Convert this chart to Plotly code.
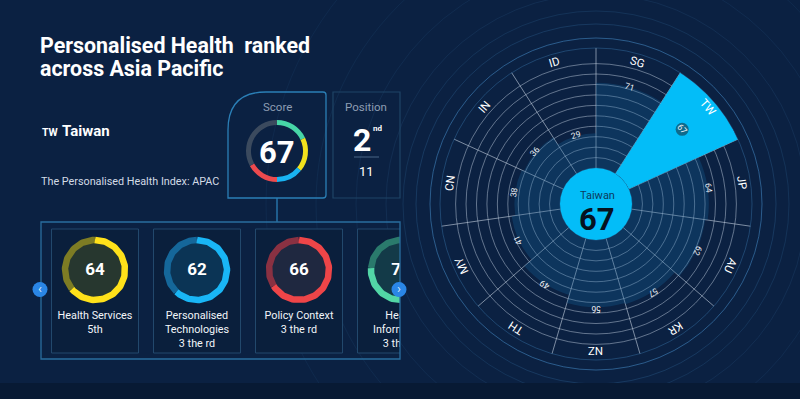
import numpy as np
import plotly.graph_objects as go

# ---------------- data ----------------
countries = ["SG", "TW", "JP", "AU", "KR", "NZ", "TH", "MY", "CN", "IN", "ID"]
country_scores = [71, 67, 64, 62, 57, 56, 49, 41, 38, 36, 29]
highlight = "TW"
selected_name = "Taiwan"
selected_score = 67
position_rank = "2"
position_suffix = "nd"
n_ranked = "11"

score_segments = [18, 18, 14, 17]          # teal, yellow, blue, red parts of the score ring
score_segment_colors = ["#47d6a7", "#f2e21d", "#19b3f1", "#ec4a4e"]

pillar_names = ["Health Services", "Personalised<br>Technologies", "Policy Context", "Health<br>Information"]
pillar_scores = [64, 62, 66, 76]
pillar_ranks = ["5th", "3 the rd", "3 the rd", "3 the rd"]
pillar_colors = ["#ffe11a", "#19b6f6", "#ee4548", "#52d6a6"]
pillar_dim = ["#7d7c24", "#15679a", "#8a3142", "#2a7a6c"]
pillar_fill = ["#27372f", "#0b3455", "#1f2840", "#133a48"]

# ---------------- geometry helpers ----------------
W, H = 800, 399
CX, CY = 596, 204          # centre of the radial chart (px)
R_OUT, R_HOLE = 156, 36
RMAX = 100.0
PXU = (R_OUT - R_HOLE) / RMAX
FONT = "Roboto"
BG = "#0b2142"

fig = go.Figure()

# full-figure pixel axes for annotations / shapes
fig.add_trace(go.Scatter(x=[None], y=[None], xaxis="x", yaxis="y", showlegend=False, hoverinfo="skip"))

# ---------------- radial chart ----------------
n = len(countries)
sector = 360.0 / n
theta_c = [sector * (i + 0.5) for i in range(n)]
bar_r = [RMAX if c == highlight else v for c, v in zip(countries, country_scores)]
bar_col = ["#03bdf8" if c == highlight else "rgba(20,100,155,0.30)" for c in countries]

fig.add_trace(go.Barpolar(
    r=bar_r, theta=theta_c, width=[sector] * n,
    marker=dict(color=bar_col, line=dict(width=0)),
    subplot="polar", showlegend=False, hoverinfo="skip"))

hi = countries.index(highlight)
fig.add_trace(go.Scatterpolar(
    r=[country_scores[hi] - 2], theta=[theta_c[hi]], mode="markers",
    marker=dict(size=13, color="#0f6a8c"), subplot="polar",
    showlegend=False, hoverinfo="skip"))

ring_vals = [8.7 * k for k in range(1, 11)]
fig.update_layout(polar=dict(
    domain=dict(x=[(CX - R_OUT) / W, (CX + R_OUT) / W],
                y=[1 - (CY + R_OUT) / H, 1 - (CY - R_OUT) / H]),
    hole=R_HOLE / R_OUT,
    bgcolor="rgba(0,0,0,0)",
    radialaxis=dict(range=[0, RMAX], tickvals=ring_vals, showticklabels=False, ticks="",
                    showline=False, gridcolor="rgba(185,200,218,0.5)", gridwidth=1),
    angularaxis=dict(rotation=90, direction="clockwise", thetaunit="degrees",
                     tickvals=[sector * i for i in range(n)], showticklabels=False, ticks="",
                     gridcolor="rgba(200,212,226,0.6)", gridwidth=1,
                     showline=True, linecolor="rgba(60,125,180,0.4)", linewidth=1),
))

def pol(r_units, t):
    rp = R_HOLE + r_units * PXU
    a = np.radians(t)
    return CX + rp * np.sin(a), CY - rp * np.cos(a)

def tangle(t):
    return t - 360 if t > 180 else t

annotations = []
for c, v, t in zip(countries, country_scores, theta_c):
    x, y = pol(93, t)
    annotations.append(dict(x=x, y=y, xref="x", yref="y", text=c, showarrow=False,
                            textangle=tangle(t), font=dict(family=FONT, size=11.5, color="#ffffff")))
    lr = v - 2 if c == highlight else v + 1
    x, y = pol(lr, t)
    annotations.append(dict(x=x, y=y, xref="x", yref="y", text=str(v), showarrow=False,
                            textangle=tangle(t), font=dict(family=FONT, size=8.5, color="#eef2f7")))

annotations.append(dict(x=CX + 1, y=195, xref="x", yref="y", text=selected_name, showarrow=False,
                        font=dict(family=FONT, size=11, color="#0b3b5c")))
annotations.append(dict(x=CX + 1, y=219, xref="x", yref="y", text=str(selected_score), showarrow=False,
                        font=dict(family=FONT, size=31, color="#06121f", weight=700)))

# ---------------- score donut ----------------
fig.add_trace(go.Pie(values=score_segments + [100 - selected_score],
                     marker=dict(colors=score_segment_colors + ["#3b4a5e"], line=dict(width=0)),
                     hole=0.84, sort=False, direction="clockwise", rotation=0, textinfo="none",
                     domain=dict(x=[246 / W, 308 / W], y=[1 - 182 / H, 1 - 120 / H]),
                     showlegend=False, hoverinfo="skip"))

# ---------------- pillar cards (clipped subplot) ----------------
CL, CR, CT, CB = 41, 400, 222, 359
card_cx = [95 + 102 * i for i in range(len(pillar_names))]
RING_Y, RING_R = 270, 30
shapes = []

for i, (nm, sc, rk) in enumerate(zip(pillar_names, pillar_scores, pillar_ranks)):
    cx = card_cx[i]
    shapes.append(dict(type="rect", xref="x2", yref="y2", x0=cx - 43.5, x1=cx + 43.5, y0=229, y1=353,
                       line=dict(color="#22486c", width=1), fillcolor="#0a1f3c", layer="below"))
    shapes.append(dict(type="circle", xref="x2", yref="y2", x0=cx - RING_R, x1=cx + RING_R,
                       y0=RING_Y - RING_R, y1=RING_Y + RING_R, line=dict(width=0),
                       fillcolor=pillar_fill[i], layer="below"))
    a_end = 360 * sc / 100
    t1 = np.radians(np.linspace(0, a_end, 90))
    t2 = np.radians(np.linspace(a_end, 360, 60))
    for tt, col in ((t2, pillar_dim[i]), (t1, pillar_colors[i])):
        fig.add_trace(go.Scatter(x=cx + RING_R * np.sin(tt), y=RING_Y - RING_R * np.cos(tt),
                                 mode="lines", line=dict(color=col, width=6.5),
                                 xaxis="x2", yaxis="y2", showlegend=False, hoverinfo="skip"))
    fig.add_trace(go.Scatter(x=[cx], y=[RING_Y + 1], mode="text", text=[str(sc)],
                             textfont=dict(family=FONT, size=17, color="#ffffff", weight=700),
                             textposition="middle center", xaxis="x2", yaxis="y2",
                             showlegend=False, hoverinfo="skip"))
    fig.add_trace(go.Scatter(x=[cx], y=[311], mode="text", text=[nm + "<br>" + rk],
                             textfont=dict(family=FONT, size=10.8, color="#f2f5f9"),
                             textposition="bottom center", xaxis="x2", yaxis="y2",
                             showlegend=False, hoverinfo="skip"))

# ---------------- decorative background ----------------
for r, a in [(166, 0.55), (180, 0.22), (193, 0.16), (210, 0.12), (240, 0.10), (280, 0.09), (330, 0.08)]:
    shapes.append(dict(type="circle", xref="x", yref="y", x0=CX - r, x1=CX + r, y0=CY - r, y1=CY + r,
                       line=dict(color=f"rgba(70,140,200,{a})", width=1), layer="below"))
shapes.append(dict(type="rect", xref="x", yref="y", x0=0, x1=W, y0=383, y1=H,
                   line=dict(width=0), fillcolor="#081a34", layer="below"))

# score card with rounded top-left corner
shapes.append(dict(type="path", xref="x", yref="y",
                   path="M 228,198 L 228,130 Q 228,92 266,92 L 323,92 Q 326,92 326,95 "
                        "L 326,195 Q 326,198 323,198 Z",
                   line=dict(color="#2b7fb6", width=1.3), layer="below"))
shapes.append(dict(type="rect", xref="x", yref="y", x0=333, x1=400, y0=92, y1=198,
                   line=dict(color="#1f4466", width=1.2), layer="below"))
shapes.append(dict(type="line", xref="x", yref="y", x0=354, x1=379, y0=157, y1=157,
                   line=dict(color="#4b6786", width=1)))
shapes.append(dict(type="line", xref="x", yref="y", x0=277, x1=277, y0=198, y1=CT,
                   line=dict(color="#2b7fb6", width=1.3)))
shapes.append(dict(type="rect", xref="x", yref="y", x0=CL, x1=CR, y0=CT, y1=CB,
                   line=dict(color="#2a6d9e", width=1.3), layer="above"))
for bx in (CL - 1, CR - 1):
    shapes.append(dict(type="circle", xref="x", yref="y", x0=bx - 7.5, x1=bx + 7.5, y0=282, y1=297,
                       line=dict(width=0), fillcolor="#2a86e6", layer="above"))
# centre disc of the radial chart
shapes.append(dict(type="circle", xref="x", yref="y", x0=CX - R_HOLE, x1=CX + R_HOLE,
                   y0=CY - R_HOLE, y1=CY + R_HOLE, line=dict(width=0), fillcolor="#03bdf8", layer="above"))

# ---------------- left-hand texts ----------------
def ann(x, y, text, size, color="#ffffff", weight=400, xanchor="center"):
    annotations.append(dict(x=x, y=y, xref="x", yref="y", text=text, showarrow=False, xanchor=xanchor,
                            font=dict(family=FONT, size=size, color=color, weight=weight)))

ann(38, 45, "Personalised Health \u2028ranked", 21.4, weight=700, xanchor="left")
ann(38, 68, "across Asia Pacific", 21.4, weight=700, xanchor="left")
ann(40, 132, "TW", 10.5, weight=700, xanchor="left")
ann(60, 131, selected_name, 15, weight=700, xanchor="left")
ann(39, 181, "The Personalised Health Index: APAC", 10.8, color="#d3dbe6", xanchor="left")
ann(277, 107, "Score", 11.5, color="#8d9db3")
ann(277, 152, str(selected_score), 31, weight=700)
ann(366, 107, "Position", 11.5, color="#8d9db3")
ann(362, 140, position_rank, 32, weight=700)
ann(377, 128, position_suffix, 8, weight=700)
ann(366, 171, n_ranked, 13)
ann(CL - 1, 288.5, "\u2039", 13, color="#dbe8f7")
ann(CR - 1, 288.5, "\u203a", 13, color="#dbe8f7")

fig.update_layout(
    width=W, height=H, margin=dict(l=0, r=0, t=0, b=0),
    paper_bgcolor=BG, plot_bgcolor="rgba(0,0,0,0)", showlegend=False,
    xaxis=dict(domain=[0, 1], range=[0, W], visible=False, fixedrange=True),
    yaxis=dict(domain=[0, 1], range=[H, 0], visible=False, fixedrange=True),
    xaxis2=dict(domain=[CL / W, CR / W], range=[CL, CR], visible=False, anchor="y2"),
    yaxis2=dict(domain=[1 - CB / H, 1 - CT / H], range=[CB, CT], visible=False, anchor="x2"),
    shapes=shapes, annotations=annotations,
)

fig.write_html("out.html", config={"displayModeBar": False},
               post_script="document.body.style.margin='0';document.body.style.overflow='hidden';"
                           "document.documentElement.style.background='" + BG + "';")
